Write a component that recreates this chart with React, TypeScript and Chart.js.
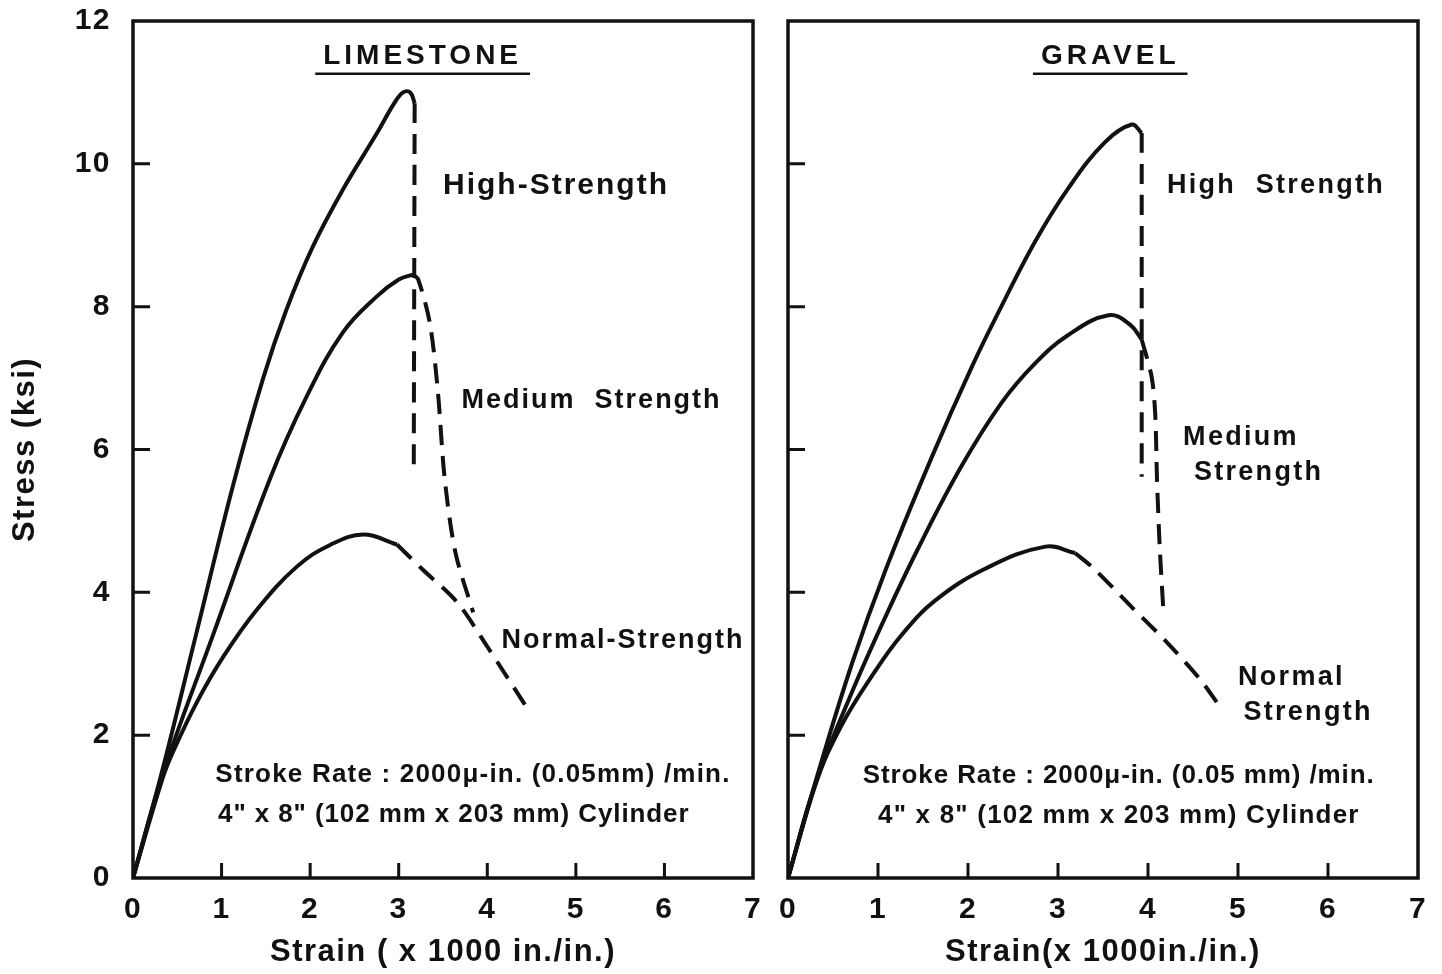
import React, { useEffect, useRef } from 'react';
import { Chart, registerables } from 'chart.js';

Chart.register(...registerables);

// ---------- axes ----------
const STRAIN_TICKS = [0, 1, 2, 3, 4, 5, 6, 7];
const STRESS_TICKS = [0, 2, 4, 6, 8, 10, 12];

// ---------- LIMESTONE (strain x1000, stress ksi) ----------
const LS_HIGH_X = [0, 0.33, 0.72, 1.13, 1.47, 1.73, 2.03, 2.37, 2.75, 2.95, 3.05, 3.13, 3.18];
const LS_HIGH_Y = [0, 1.5, 3.45, 5.5, 7.0, 7.95, 8.84, 9.64, 10.42, 10.85, 11.0, 11.0, 10.85];
const LS_HIGH_DROP_X = [3.18, 3.17];
const LS_HIGH_DROP_Y = [10.85, 5.76];

const LS_MED_X = [0, 0.33, 0.9, 1.55, 1.96, 2.37, 2.75, 3.0, 3.16];
const LS_MED_Y = [0, 1.43, 3.39, 5.6, 6.74, 7.64, 8.14, 8.38, 8.45];
const LS_MED_DROP_X = [3.16, 3.22, 3.35, 3.44, 3.52, 3.64, 3.84];
const LS_MED_DROP_Y = [8.45, 8.38, 7.78, 6.84, 5.58, 4.56, 3.72];

const LS_NORM_X = [0, 0.33, 0.45, 0.72, 1.02, 1.4, 1.85, 2.22, 2.6, 2.98];
const LS_NORM_Y = [0, 1.38, 1.76, 2.46, 3.1, 3.76, 4.36, 4.66, 4.81, 4.67];
const LS_NORM_DROP_X = [2.98, 3.27, 3.66, 4.0, 4.48];
const LS_NORM_DROP_Y = [4.67, 4.32, 3.86, 3.24, 2.32];

// ---------- GRAVEL ----------
const GR_HIGH_X = [0, 0.33, 0.71, 1.08, 1.6, 2.04, 2.37, 2.74, 3.11, 3.52, 3.82, 3.93];
const GR_HIGH_Y = [0, 1.45, 3.0, 4.3, 5.9, 7.15, 8.0, 8.9, 9.65, 10.3, 10.55, 10.43];
const GR_HIGH_DROP_X = [3.93, 3.93];
const GR_HIGH_DROP_Y = [10.43, 5.62];

const GR_MED_X = [0, 0.33, 0.71, 1.08, 1.44, 1.92, 2.37, 2.74, 3.11, 3.56, 3.8, 3.93];
const GR_MED_Y = [0, 1.4, 2.6, 3.65, 4.6, 5.75, 6.65, 7.2, 7.6, 7.88, 7.75, 7.54];
const GR_MED_DROP_X = [3.93, 4.04, 4.08, 4.1, 4.13, 4.17];
const GR_MED_DROP_Y = [7.54, 7.02, 6.5, 5.58, 4.64, 3.76];

const GR_NORM_X = [0, 0.3, 0.6, 0.97, 1.26, 1.63, 2.19, 2.86, 3.19];
const GR_NORM_Y = [0, 1.3, 2.15, 2.9, 3.4, 3.88, 4.33, 4.64, 4.55];
const GR_NORM_DROP_X = [3.19, 3.4, 3.83, 4.21, 4.58, 4.82];
const GR_NORM_DROP_Y = [4.55, 4.33, 3.78, 3.3, 2.78, 2.36];

// ---------- texts ----------
const LS_TITLE = 'LIMESTONE';
const GR_TITLE = 'GRAVEL';
const LS_X_TITLE = 'Strain ( x 1000 in./in.)';
const GR_X_TITLE = 'Strain(x 1000in./in.)';
const Y_TITLE = 'Stress (ksi)';

type Note = { text: string; x: number; y: number; size: number; ls: number; align: CanvasTextAlign; underline?: boolean };

const LS_NOTES: Note[] = [
  { text: LS_TITLE, x: 3.27, y: 11.5, size: 28, ls: 4, align: 'center', underline: true },
  { text: 'High-Strength', x: 3.5, y: 9.7, size: 30, ls: 2, align: 'left' },
  { text: 'Medium  Strength', x: 3.71, y: 6.68, size: 27, ls: 2, align: 'left' },
  { text: 'Normal-Strength', x: 4.16, y: 3.32, size: 27, ls: 2, align: 'left' },
  { text: 'Stroke Rate : 2000\u03bc-in. (0.05mm) /min.', x: 0.93, y: 1.45, size: 26, ls: 1.2, align: 'left' },
  { text: '4" x 8" (102 mm x 203 mm) Cylinder', x: 0.96, y: 0.88, size: 26, ls: 0.9, align: 'left' },
];

const GR_NOTES: Note[] = [
  { text: GR_TITLE, x: 3.58, y: 11.5, size: 28, ls: 4, align: 'center', underline: true },
  { text: 'High  Strength', x: 4.21, y: 9.69, size: 27, ls: 2.3, align: 'left' },
  { text: 'Medium', x: 4.39, y: 6.17, size: 27, ls: 2.3, align: 'left' },
  { text: 'Strength', x: 4.51, y: 5.68, size: 27, ls: 2.3, align: 'left' },
  { text: 'Normal', x: 5.0, y: 2.8, size: 27, ls: 2.3, align: 'left' },
  { text: 'Strength', x: 5.06, y: 2.31, size: 27, ls: 2.3, align: 'left' },
  { text: 'Stroke Rate : 2000\u03bc-in. (0.05 mm) /min.', x: 0.83, y: 1.43, size: 26, ls: 0.9, align: 'left' },
  { text: '4" x 8" (102 mm x 203 mm) Cylinder', x: 1.0, y: 0.87, size: 26, ls: 1.2, align: 'left' },
];

const FONT_FAMILY = "'Liberation Sans', Arial, sans-serif";
const INK = '#111';

const pts = (xs: number[], ys: number[]) => xs.map((x, i) => ({ x, y: ys[i] }));

function series(label: string, xs: number[], ys: number[], dashed: boolean) {
  return {
    label,
    data: pts(xs, ys),
    showLine: true,
    borderColor: INK,
    backgroundColor: INK,
    borderWidth: 4,
    pointRadius: 0,
    tension: dashed ? 0.3 : 0.4,
    borderDash: dashed ? [20, 11] : [],
    borderCapStyle: 'butt' as const,
    fill: false,
  };
}

const framePlugin = {
  id: 'frame',
  beforeDraw(chart: any) {
    chart.ctx.letterSpacing = '1.5px';
  },
  afterDatasetsDraw(chart: any) {
    const { ctx, chartArea: a, scales } = chart;
    ctx.save();
    ctx.strokeStyle = INK;
    ctx.lineWidth = 3.5;
    ctx.strokeRect(a.left, a.top, a.right - a.left, a.bottom - a.top);
    ctx.lineWidth = 3;
    ctx.beginPath();
    STRAIN_TICKS.slice(1, -1).forEach((v) => {
      const px = scales.x.getPixelForValue(v);
      ctx.moveTo(px, a.bottom);
      ctx.lineTo(px, a.bottom - 15);
    });
    STRESS_TICKS.slice(1, -1).forEach((v) => {
      const py = scales.y.getPixelForValue(v);
      ctx.moveTo(a.left, py);
      ctx.lineTo(a.left + 17, py);
    });
    ctx.stroke();
    ctx.restore();
  },
};

const notesPlugin = (notes: Note[]) => ({
  id: 'notes',
  afterDraw(chart: any) {
    const { ctx, scales } = chart;
    ctx.save();
    ctx.fillStyle = INK;
    ctx.strokeStyle = INK;
    notes.forEach((n) => {
      ctx.font = `bold ${n.size}px ${FONT_FAMILY}`;
      ctx.letterSpacing = `${n.ls}px`;
      ctx.textAlign = n.align;
      ctx.textBaseline = 'middle';
      const px = scales.x.getPixelForValue(n.x);
      const py = scales.y.getPixelForValue(n.y);
      ctx.fillText(n.text, px, py);
      if (n.underline) {
        const w = ctx.measureText(n.text).width;
        ctx.lineWidth = 2.5;
        ctx.beginPath();
        ctx.moveTo(px - w / 2 - 8, py + 17);
        ctx.lineTo(px + w / 2 + 8, py + 17);
        ctx.stroke();
      }
    });
    ctx.restore();
  },
});

// fixed axis box sizes; label overhang must not shrink the plot area
const fixBox = (w: number | null, h: number | null) => (s: any) => {
  if (w !== null) s.width = w;
  if (h !== null) s.height = h;
  s.paddingTop = 0;
  s.paddingBottom = 0;
  s.paddingLeft = 0;
  s.paddingRight = 0;
};

type PanelProps = {
  width: number;
  left: number;
  yAxisWidth: number;
  padRight: number;
  showY: boolean;
  xTitle: string;
  notes: Note[];
  datasets: any[];
};

function Panel({ width, left, yAxisWidth, padRight, showY, xTitle, notes, datasets }: PanelProps) {
  const ref = useRef<HTMLCanvasElement | null>(null);
  useEffect(() => {
    if (!ref.current) return;
    const tickFont = { family: FONT_FAMILY, size: 30, weight: 'bold' as const };
    const chart = new Chart(ref.current, {
      type: 'scatter',
      data: { datasets },
      options: {
        animation: false,
        responsive: false,
        maintainAspectRatio: false,
        devicePixelRatio: 1,
        layout: { padding: { top: 21, right: padRight, bottom: 0, left: 0 } },
        plugins: { legend: { display: false }, tooltip: { enabled: false }, title: { display: false } },
        scales: {
          x: {
            type: 'linear',
            min: 0,
            max: 7,
            afterFit: fixBox(null, 96),
            grid: { display: false, drawTicks: false },
            border: { display: false },
            ticks: { stepSize: 1, autoSkip: false, maxRotation: 0, color: INK, font: tickFont, padding: 14 },
            title: {
              display: true,
              text: xTitle,
              color: INK,
              font: { family: FONT_FAMILY, size: 31, weight: 'bold' as const },
              padding: { top: 0, bottom: 3 },
            },
          },
          y: {
            type: 'linear',
            min: 0,
            max: 12,
            afterFit: fixBox(yAxisWidth, null),
            grid: { display: false, drawTicks: false },
            border: { display: false },
            ticks: { display: showY, stepSize: 2, autoSkip: false, color: INK, font: tickFont, padding: 22 },
            title: {
              display: showY,
              text: Y_TITLE,
              color: INK,
              font: { family: FONT_FAMILY, size: 31, weight: 'bold' as const },
              padding: { top: 7, bottom: 0 },
            },
          },
        },
      },
      plugins: [framePlugin, notesPlugin(notes)],
    });
    return () => chart.destroy();
  }, []);
  return (
    <canvas
      ref={ref}
      width={width}
      height={974}
      style={{ position: 'absolute', left, top: 0, width, height: 974 }}
    />
  );
}

const limestoneSets = [
  series('Limestone high', LS_HIGH_X, LS_HIGH_Y, false),
  series('Limestone high post-peak', LS_HIGH_DROP_X, LS_HIGH_DROP_Y, true),
  series('Limestone medium', LS_MED_X, LS_MED_Y, false),
  series('Limestone medium post-peak', LS_MED_DROP_X, LS_MED_DROP_Y, true),
  series('Limestone normal', LS_NORM_X, LS_NORM_Y, false),
  series('Limestone normal post-peak', LS_NORM_DROP_X, LS_NORM_DROP_Y, true),
];

const gravelSets = [
  series('Gravel high', GR_HIGH_X, GR_HIGH_Y, false),
  series('Gravel high post-peak', GR_HIGH_DROP_X, GR_HIGH_DROP_Y, true),
  series('Gravel medium', GR_MED_X, GR_MED_Y, false),
  series('Gravel medium post-peak', GR_MED_DROP_X, GR_MED_DROP_Y, true),
  series('Gravel normal', GR_NORM_X, GR_NORM_Y, false),
  series('Gravel normal post-peak', GR_NORM_DROP_X, GR_NORM_DROP_Y, true),
];

export default function App() {
  return (
    <div style={{ position: 'fixed', left: 0, top: 0, width: 1442, height: 974, background: '#fff', overflow: 'hidden' }}>
      <Panel
        width={770}
        left={0}
        yAxisWidth={133}
        padRight={17}
        showY={true}
        xTitle={LS_X_TITLE}
        notes={LS_NOTES}
        datasets={limestoneSets}
      />
      <Panel
        width={672}
        left={770}
        yAxisWidth={18}
        padRight={24}
        showY={false}
        xTitle={GR_X_TITLE}
        notes={GR_NOTES}
        datasets={gravelSets}
      />
    </div>
  );
}
